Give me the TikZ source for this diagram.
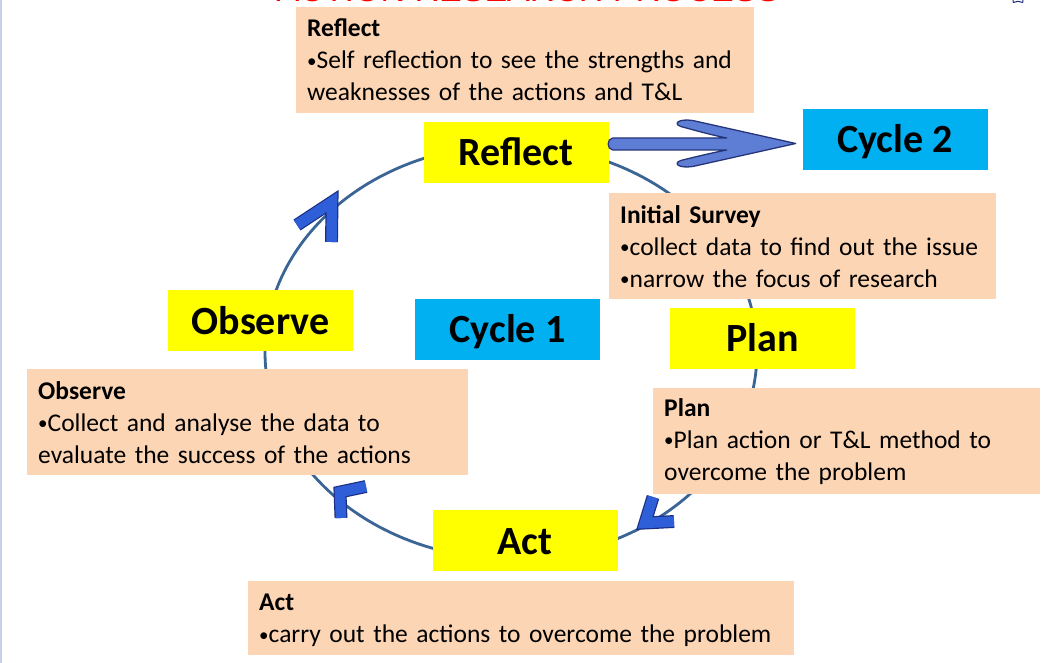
\documentclass[tikz,border=0pt]{standalone}
\usepackage{fontspec}
\setmainfont{Carlito}
\newfontfamily\titlefont{Liberation Sans}
\usetikzlibrary{shapes.geometric}
\hyphenpenalty=10000
\exhyphenpenalty=10000
\newcommand\smallbul{{\fontsize{19}{19}\selectfont\raisebox{1.2pt}{•}}}
\definecolor{peach}{HTML}{FCD5B5}
\definecolor{ylw}{HTML}{FFFF00}
\definecolor{cyn}{HTML}{00B0F0}
\definecolor{ring}{HTML}{3A6595}
\definecolor{chevfill}{HTML}{2E5FD8}
\definecolor{chevline}{HTML}{1B2E82}
\definecolor{arrfill}{HTML}{5E7ED6}
\definecolor{arrline}{HTML}{26357A}
\definecolor{edgeline}{HTML}{C8D0E8}
\definecolor{titlered}{HTML}{FF0000}
\begin{document}
\begin{tikzpicture}[x=1pt,y=-1pt,
  descbox/.style={fill=peach, draw=none, anchor=north west, inner xsep=11pt,
    inner ysep=0pt, align=left,
    font=\fontsize{25.5}{32}\selectfont},
  labbox/.style={draw=none, minimum width=185pt, minimum height=61pt,
    inner sep=0pt, text height=27pt, text depth=0pt,
    font=\bfseries\fontsize{40}{40}\selectfont},
  chev/.style={draw=chevline, line width=1.2pt, double=chevfill,
    double distance=10.5pt, line join=miter},
  bigarrow/.style={draw=arrline, fill=arrfill, line width=1.3pt, line join=round}]
\useasboundingbox (0,0) rectangle (1056,663);
\clip (0,0) rectangle (1056,663);
\fill[white] (0,0) rectangle (1056,663);
\draw[edgeline, line width=2pt] (1,0) -- (1,663);

% cut-off title and icon
\node[anchor=base, text=titlered, inner sep=0pt,
  font=\titlefont\fontsize{34}{34}\selectfont] (title) at (528,2) {ACTION RESEARCH PROCESS};
\node[star, star points=5, draw=chevline, line width=1pt, minimum size=16pt,
  inner sep=0pt] (staricon) at (1018,-4) {};

% cycle ring
\draw[ring, line width=2.8pt] (511,352) ellipse [x radius=246, y radius=207];

% description boxes
\node[descbox, minimum width=458pt, minimum height=106pt, text width=436pt]
  (reflectdesc) at (296,7)
  {\textbf{Reflect}\\\smallbul Self reflection to see the strengths and\\weaknesses of the actions and T\&L};
\node[descbox, minimum width=387pt, minimum height=106pt, text width=365pt]
  (surveydesc) at (609,193)
  {\textbf{Initial Survey}\\\smallbul collect data to find out the issue\\\smallbul narrow the focus of research};
\node[descbox, minimum width=441pt, minimum height=106pt, text width=419pt]
  (observedesc) at (27,369)
  {\textbf{Observe}\\\smallbul Collect and analyse the data to\\evaluate the success of the actions};
\node[descbox, minimum width=387pt, minimum height=106pt, text width=365pt]
  (plandesc) at (653,388)
  {\textbf{Plan}\\\smallbul Plan action or T\&L method to\\overcome the problem};
\node[descbox, minimum width=546pt, minimum height=74pt, text width=524pt,
  text depth=32.5pt]
  (actdesc) at (248,581)
  {\textbf{Act}\\\smallbul carry out the actions to overcome the problem};

% stage labels
\node[labbox, fill=ylw] (reflect) at (516,152.5) {Reflect};
\node[labbox, fill=ylw] (plan) at (762.5,338) {Plan};
\node[labbox, fill=ylw] (observe) at (260.5,320.5) {Observe};
\node[labbox, fill=ylw] (act) at (525,540.5) {Act};
\node[labbox, fill=cyn] (cycle1) at (507.5,329) {Cycle 1};
\node[labbox, fill=cyn] (cycle2) at (895,139.5) {Cycle 2};

% big arrow Reflect -> Cycle 2
\begin{scope}[shift={(reflect.east)}]
\draw[bigarrow] (4,-14.5) -- (118,-14.5)
  .. controls (100,-18) and (80,-24) .. (72,-26)
  .. controls (64,-29) and (70,-34) .. (84,-32)
  -- (187,-9)
  -- (84,14)
  .. controls (70,16) and (64,11) .. (72,8)
  .. controls (80,6) and (100,1) .. (118,-2.5)
  -- (4,-2.5)
  .. controls (-2,-3) and (-2,-14) .. (4,-14.5) -- cycle;
\end{scope}

% direction chevrons on the ring
\coordinate (c1a) at (297,225); \coordinate (c1b) at (332,202); \coordinate (c1c) at (331.5,242);
\coordinate (c2a) at (366,486.5); \coordinate (c2b) at (340,492); \coordinate (c2c) at (341,518);
\coordinate (c3a) at (653,497); \coordinate (c3b) at (645,523); \coordinate (c3c) at (674,521.5);
\draw[chev] (c1a) -- (c1b) -- (c1c);
\draw[chev] (c2a) -- (c2b) -- (c2c);
\draw[chev] (c3a) -- (c3b) -- (c3c);
\end{tikzpicture}
\end{document}
